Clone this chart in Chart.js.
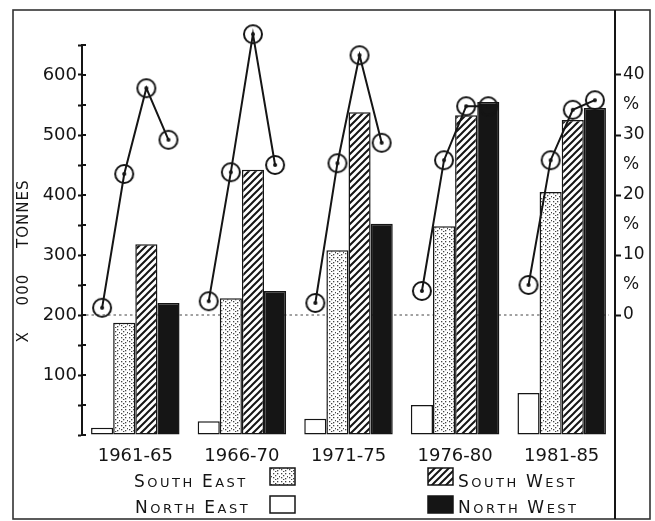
<!DOCTYPE html>
<html>
<head>
<meta charset="utf-8">
<script src="https://cdn.jsdelivr.net/npm/chart.js@4.4.0/dist/chart.umd.min.js"></script>
<style>
  body { margin: 0; background: #fff; }
  #wrap { width: 655px; height: 521px; }
</style>
</head>
<body>
<div id="wrap"><canvas id="chart"></canvas></div>
<script>
// categories
const periods = ['1961-65', '1966-70', '1971-75', '1976-80', '1981-85'];
const regions = ['North East', 'South East', 'South West', 'North West'];

// bars, x 000 tonnes (left axis)
const northEast = [12, 23, 27, 50, 70];
const southEast = [187, 228, 308, 348, 405];
const southWest = [318, 442, 538, 533, 525];
const northWest = [220, 240, 352, 555, 545];

// line, % (right axis)
const pctNorthEast = [1.2, 2.3, 2.0, 4.0, 5.0];
const pctSouthEast = [23.5, 23.8, 25.3, 25.8, 25.8];
const pctSouthWest = [37.8, 46.8, 43.3, 34.8, 34.2];
const pctNorthWest = [29.2, 25.0, 28.7, 34.8, 35.8];

// tick labels
const tonneTicks = [100, 200, 300, 400, 500, 600];
const pctTicks = [0, 10, 20, 30, 40];
const yTitle = 'X 000 TONNES';

const ink = '#151515';
Chart.defaults.font.family = 'DejaVu Sans';
Chart.defaults.color = ink;

const canvas = document.getElementById('chart');
const mainCtx = canvas.getContext('2d');

// fill patterns
function makeHatch() {
  const c = document.createElement('canvas');
  c.width = 7; c.height = 7;
  const x = c.getContext('2d');
  x.fillStyle = '#fff';
  x.fillRect(0, 0, 7, 7);
  x.strokeStyle = ink;
  x.lineWidth = 2;
  x.beginPath();
  x.moveTo(-1, 8); x.lineTo(8, -1);
  x.moveTo(-1, 1); x.lineTo(1, -1);
  x.moveTo(6, 8); x.lineTo(8, 6);
  x.stroke();
  return mainCtx.createPattern(c, 'repeat');
}

function makeDots() {
  const c = document.createElement('canvas');
  c.width = 8; c.height = 8;
  const x = c.getContext('2d');
  x.fillStyle = '#fff';
  x.fillRect(0, 0, 8, 8);
  x.fillStyle = '#444';
  [[1, 1], [5, 1], [3, 3], [7, 4], [1, 5], [5, 6], [3, 7]].forEach(p => x.fillRect(p[0], p[1], 1.3, 1.3));
  return mainCtx.createPattern(c, 'repeat');
}

function makeMarker() {
  const c = document.createElement('canvas');
  c.width = 22; c.height = 22;
  const x = c.getContext('2d');
  x.strokeStyle = ink;
  x.lineWidth = 2;
  x.beginPath(); x.arc(11, 11, 9, 0, Math.PI * 2); x.stroke();
  x.fillStyle = ink;
  x.beginPath(); x.arc(11, 11, 2, 0, Math.PI * 2); x.fill();
  return c;
}

const catPct = 0.83;

// one x axis (period index) shared by bars and line
const toPoints = arr => arr.map((v, g) => ({ x: g, y: v }));

// line points sit over their bar, one broken line per period
const regionPcts = [pctNorthEast, pctSouthEast, pctSouthWest, pctNorthWest];
const linePoints = [];
periods.forEach((p, g) => {
  regionPcts.forEach((arr, k) => {
    linePoints.push({ x: g + (k - 1.5) * catPct / 4, y: arr[g] });
  });
  if (g < periods.length - 1) linePoints.push({ x: g + 0.5, y: null });
});

function barSet(label, data, fill) {
  return {
    type: 'bar', label: label, data: toPoints(data),
    backgroundColor: fill, borderColor: ink, borderWidth: 1.5,
    borderSkipped: false, xAxisID: 'x', yAxisID: 'y', order: 1,
    categoryPercentage: catPct, barPercentage: 1.0
  };
}

// small caps label drawing
function drawSmallCaps(ctx, text, x, y, big, small, spacing) {
  let cx = x;
  text.split(' ').forEach((word, wi) => {
    if (wi > 0) cx += small * 0.55;
    for (let i = 0; i < word.length; i++) {
      const size = i === 0 ? big : small;
      ctx.font = size + 'px "DejaVu Sans"';
      const ch = word[i].toUpperCase();
      ctx.fillText(ch, cx, y);
      cx += ctx.measureText(ch).width + spacing;
    }
  });
}

const decor = {
  id: 'decor',
  beforeDatasetsDraw(chart) {
    const { ctx, chartArea, scales } = chart;
    const y0 = scales.y.getPixelForValue(200);
    ctx.save();
    ctx.strokeStyle = '#444';
    ctx.lineWidth = 1;
    ctx.setLineDash([2.5, 3]);
    ctx.beginPath();
    ctx.moveTo(chartArea.left + 4, y0);
    ctx.lineTo(chartArea.right - 6, y0);
    ctx.stroke();
    ctx.restore();
  },
  afterDraw(chart) {
    const { ctx, chartArea, scales } = chart;
    ctx.save();
    // frame and full-height right axis line
    ctx.strokeStyle = '#333';
    ctx.lineWidth = 1.6;
    ctx.strokeRect(13, 10, 637, 509);
    ctx.lineWidth = 2;
    ctx.strokeStyle = ink;
    ctx.beginPath();
    ctx.moveTo(chartArea.right, 10);
    ctx.lineTo(chartArea.right, 519);
    ctx.stroke();

    // inner half of the left axis tick marks
    scales.y.ticks.forEach(t => {
      const py = scales.y.getPixelForValue(t.value);
      ctx.beginPath();
      ctx.moveTo(chartArea.left, py);
      ctx.lineTo(chartArea.left + 4, py);
      ctx.stroke();
    });

    // axis title
    ctx.fillStyle = ink;
    ctx.translate(24, 261);
    ctx.rotate(-Math.PI / 2);
    ctx.font = '15px "DejaVu Sans"';
    ctx.textAlign = 'center';
    ctx.textBaseline = 'middle';
    if ('letterSpacing' in ctx) ctx.letterSpacing = '1px';
    if ('wordSpacing' in ctx) ctx.wordSpacing = '20px';
    ctx.fillText(yTitle, 0, 0);
    ctx.restore();

    // legend
    ctx.save();
    ctx.fillStyle = ink;
    ctx.textBaseline = 'alphabetic';
    ctx.textAlign = 'left';
    const items = [
      { i: 1, tx: 134, ty: 487, bx: 270, by: 468 },
      { i: 0, tx: 135, ty: 513, bx: 270, by: 496 },
      { i: 2, tx: 458, ty: 487, bx: 428, by: 468 },
      { i: 3, tx: 458, ty: 513, bx: 428, by: 496 }
    ];
    items.forEach(it => {
      const ds = chart.data.datasets[it.i];
      ctx.fillStyle = ds.backgroundColor;
      ctx.fillRect(it.bx, it.by, 25, 17);
      ctx.strokeStyle = ink;
      ctx.lineWidth = 1.5;
      ctx.strokeRect(it.bx, it.by, 25, 17);
      ctx.fillStyle = ink;
      drawSmallCaps(ctx, ds.label, it.tx, it.ty, 17, 13, 2.5);
    });
    ctx.restore();
  }
};

new Chart(canvas, {
  type: 'bar',
  data: {
    datasets: [
      barSet(regions[0], northEast, '#ffffff'),
      barSet(regions[1], southEast, makeDots()),
      barSet(regions[2], southWest, makeHatch()),
      barSet(regions[3], northWest, ink),
      {
        type: 'line', label: '%', data: linePoints,
        xAxisID: 'x', yAxisID: 'yp', order: 0,
        borderColor: ink, borderWidth: 2, spanGaps: false, clip: false,
        pointStyle: makeMarker(), pointRadius: 10,
        pointBackgroundColor: 'rgba(0,0,0,0)', pointBorderColor: ink
      }
    ]
  },
  options: {
    responsive: true,
    maintainAspectRatio: false,
    animation: false,
    layout: { padding: { top: 45, left: 0, right: 0, bottom: 0 } },
    plugins: { legend: { display: false }, tooltip: { enabled: false } },
    scales: {
      x: {
        type: 'linear', min: -0.5, max: periods.length - 0.5, offset: false,
        afterBuildTicks: s => { s.ticks = periods.map((p, i) => ({ value: i })); },
        grid: { display: false, offset: false },
        border: { display: false },
        ticks: {
          font: { size: 18 }, color: ink, padding: 3, maxRotation: 0, autoSkip: false,
          callback: v => periods[v] || ''
        },
        afterFit: s => { s.height = 86; }
      },
      y: {
        position: 'left', min: 0, max: 650,
        ticks: {
          stepSize: 50, color: ink, font: { size: 18 }, padding: 1,
          callback: v => tonneTicks.includes(v) ? String(v) : ''
        },
        grid: { drawOnChartArea: false, tickLength: 4, tickColor: ink, tickWidth: 2 },
        border: { color: ink, width: 2 },
        afterFit: s => { s.width = 82; }
      },
      yp: {
        position: 'right', min: -20, max: 45,
        ticks: {
          stepSize: 5, color: ink, font: { size: 17 }, padding: 2,
          callback: v => pctTicks.includes(v) ? String(v) : (v > 0 && v < 40 ? '%' : '')
        },
        grid: {
          drawOnChartArea: false, tickLength: 6, tickWidth: 2,
          tickColor: c => pctTicks.includes(c.tick.value) ? ink : 'rgba(0,0,0,0)'
        },
        border: { display: false },
        afterFit: s => { s.width = 40; }
      }
    }
  },
  plugins: [decor]
});
</script>
</body>
</html>
